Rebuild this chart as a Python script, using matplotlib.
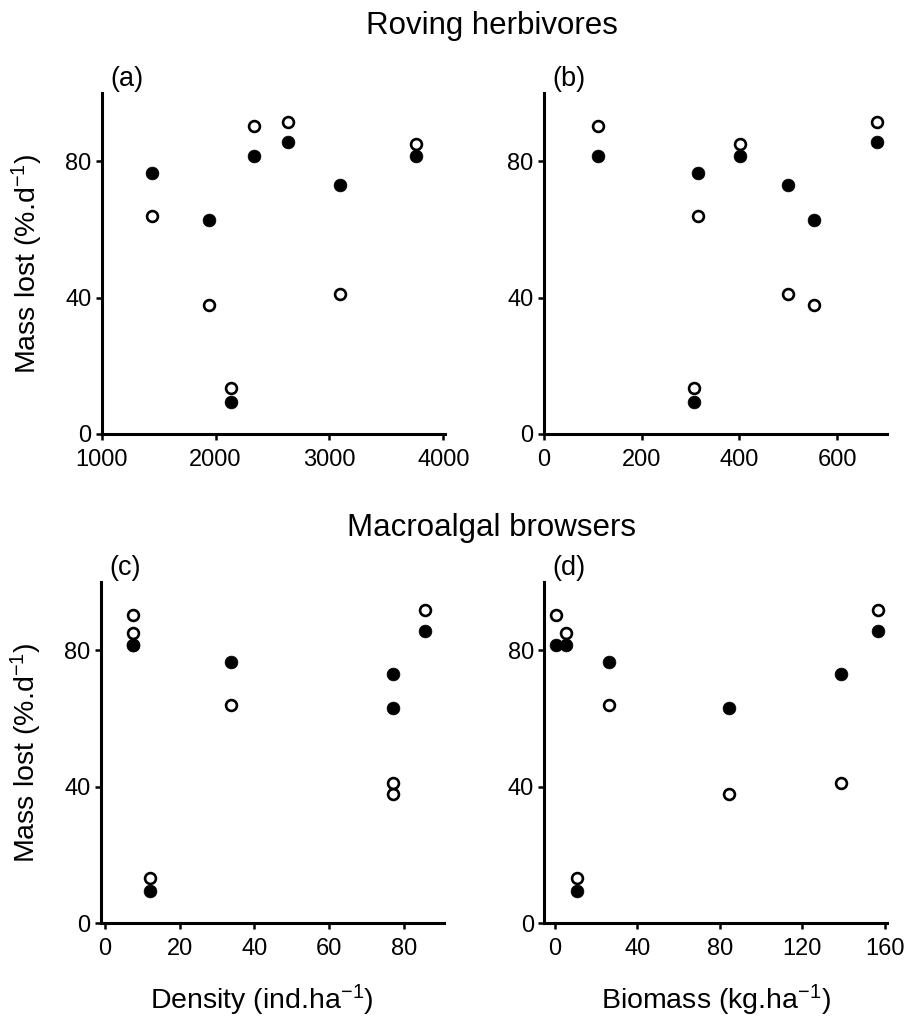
import matplotlib
matplotlib.use("Agg")
import matplotlib.pyplot as plt

plt.rcParams['font.family'] = ['Liberation Sans', 'DejaVu Sans']
plt.rcParams['mathtext.fontset'] = 'custom'
plt.rcParams['mathtext.rm'] = 'Liberation Sans'
plt.rcParams['mathtext.it'] = 'Liberation Sans:italic'
plt.rcParams['mathtext.default'] = 'regular'

# Mass lost (%.d-1) at the seven sites: filled and open symbols
mass_filled = [76.5, 62.9, 9.5, 81.6, 85.5, 72.9, 81.4]
mass_open = [63.8, 37.9, 13.4, 90.2, 91.6, 41.1, 85.0]

# Roving herbivores
rov_density = [1440, 1944, 2137, 2334, 2633, 3090, 3758]
rov_biomass = [315, 553, 307, 110, 682, 499, 402]

# Macroalgal browsers
mac_density = [33.6, 76.9, 12.2, 7.6, 85.5, 76.9, 7.6]
mac_biomass = [26.3, 84.7, 11.0, 0.8, 156.5, 138.7, 5.5]

y_ticks = [0, 40, 80]
panels = [
    ("(a)", rov_density, (1000, 4015), [1000, 2000, 3000, 4000], None, True),
    ("(b)", rov_biomass, (0, 702), [0, 200, 400, 600], None, False),
    ("(c)", mac_density, (-1, 90.5), [0, 20, 40, 60, 80], "Density (ind.ha$^{-1}$)", True),
    ("(d)", mac_biomass, (-5, 161), [0, 40, 80, 120, 160], "Biomass (kg.ha$^{-1}$)", False),
]

W, H = 911, 1019
fig = plt.figure(figsize=(W / 100, H / 100), dpi=100)

# axes boxes in pixels: left, right, top, bottom
boxes = [
    (101.7, 445, 93, 434),
    (544, 887, 93, 434),
    (101, 443.5, 581.7, 923.3),
    (544.3, 887, 581.7, 923.3),
]

for i, ((lab, xs, xlim, xt, xlabel, show_ylab), (l, r, t, b)) in enumerate(zip(panels, boxes)):
    ax = fig.add_axes([l / W, 1 - b / H, (r - l) / W, (b - t) / H])
    ax.plot(xs, mass_filled, 'o', ms=9.2, mfc='black', mec='black', mew=0.5, clip_on=False, zorder=3)
    ax.plot(xs, mass_open, 'o', ms=7.8, mfc='white', mec='black', mew=1.9, clip_on=False, zorder=4)
    ax.set_xlim(*xlim)
    ax.set_ylim(0, 100)
    ax.set_xticks(xt)
    ax.set_yticks(y_ticks)
    for s in ['top', 'right']:
        ax.spines[s].set_visible(False)
    for s in ['left', 'bottom']:
        ax.spines[s].set_linewidth(2.2)
    ax.tick_params(axis='both', direction='out', length=4.5, width=1.8, labelsize=17, color='black')
    ax.tick_params(axis='x', pad=6)
    ax.tick_params(axis='y', pad=3)
    ax.text(0.025, 1.04, lab, transform=ax.transAxes, fontsize=19.5, ha='left', va='center')
    if show_ylab:
        ax.set_ylabel('Mass lost (%.d$^{-1}$)', fontsize=20.5)
        ax.yaxis.set_label_coords(-0.165, 0.5)
    if xlabel:
        ax.set_xlabel(xlabel, fontsize=20.5, labelpad=15)
        if i == 2:
            ax.xaxis.set_label_coords(0.47, -0.175)
        else:
            ax.xaxis.set_label_coords(0.5, -0.175)

fig.text(492 / W, 1 - 34 / H, 'Roving herbivores', fontsize=22.5, ha='center', va='baseline')
fig.text(492 / W, 1 - 536 / H, 'Macroalgal browsers', fontsize=22.5, ha='center', va='baseline')

fig.savefig('out.png', dpi=100, facecolor='white')
